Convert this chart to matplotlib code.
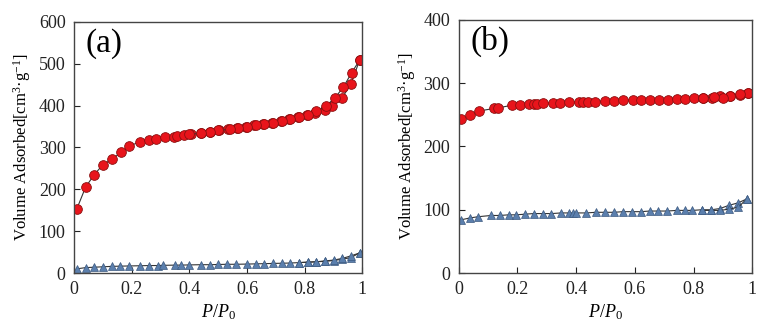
import numpy as np
import matplotlib.pyplot as plt

plt.rcParams['font.family'] = ['Liberation Serif', 'DejaVu Serif']
plt.rcParams['mathtext.fontset'] = 'custom'
plt.rcParams['mathtext.rm'] = 'Liberation Serif'
plt.rcParams['mathtext.it'] = 'Liberation Serif:italic'

# (a) adsorption / desorption, red circles
a_red_ads_x = [0.009, 0.04, 0.069, 0.099, 0.133, 0.163, 0.192, 0.229, 0.259, 0.284, 0.314,
               0.347, 0.358, 0.382, 0.405, 0.442, 0.472, 0.502, 0.534, 0.564, 0.595, 0.625,
               0.655, 0.687, 0.717, 0.747, 0.777, 0.807, 0.837, 0.870, 0.895, 0.928, 0.960, 0.990]
a_red_ads_y = [152, 205, 234, 258, 273, 288, 303, 314, 318, 320, 324,
               326, 327, 329, 331, 334, 337, 341, 343, 346, 350, 353,
               356, 359, 363, 368, 373, 378, 383, 390, 398, 417, 451, 508]
a_red_des_x = [0.990, 0.963, 0.934, 0.904, 0.874, 0.84, 0.81, 0.78, 0.75, 0.72, 0.69,
               0.66, 0.63, 0.60, 0.57, 0.54, 0.50, 0.47, 0.44, 0.40]
a_red_des_y = [508, 479, 444, 418, 399, 386, 378, 373, 368, 363, 359,
               356, 353, 350, 346, 343, 341, 337, 334, 331]

# (a) blue triangles
a_blue_ads_x = [0.009, 0.04, 0.07, 0.10, 0.13, 0.16, 0.19, 0.23, 0.26, 0.29, 0.31, 0.35,
                0.37, 0.40, 0.44, 0.47, 0.50, 0.53, 0.56, 0.60, 0.63, 0.66, 0.69, 0.72,
                0.75, 0.78, 0.81, 0.84, 0.87, 0.90, 0.93, 0.96, 0.99]
a_blue_ads_y = [10, 13, 14, 15, 16, 16.5, 17, 17.5, 18, 18, 18.5, 19,
                19, 19.5, 20, 20, 20.5, 21, 21, 21.5, 22, 22.5, 23, 23.5,
                24, 25, 26, 27, 28, 30, 33, 37, 48]
a_blue_des_x = [0.99, 0.96, 0.93, 0.90, 0.87, 0.84, 0.81, 0.78]
a_blue_des_y = [48, 41, 35, 31, 29, 27, 26, 25]

# (b) red circles
b_red_ads_x = [0.007, 0.0375, 0.069, 0.12, 0.135, 0.18, 0.21, 0.24, 0.255, 0.265, 0.287,
               0.32, 0.345, 0.374, 0.408, 0.424, 0.44, 0.465, 0.497, 0.528, 0.56, 0.592,
               0.622, 0.651, 0.683, 0.712, 0.742, 0.772, 0.801, 0.833, 0.863, 0.89, 0.924,
               0.958, 0.986]
b_red_ads_y = [243, 249, 256, 260, 261, 265, 266, 267, 267, 267, 268,
               269, 269, 270, 270, 270, 270, 271, 272, 272, 273, 273,
               274, 274, 274, 274, 275, 275, 276, 276, 277, 279, 280,
               282, 284]
b_red_des_x = [0.986, 0.958, 0.924, 0.90, 0.87, 0.833]
b_red_des_y = [284, 283, 279, 276, 278, 277]

# (b) blue triangles
b_blue_ads_x = [0.007, 0.0375, 0.066, 0.11, 0.14, 0.17, 0.195, 0.225, 0.255, 0.286, 0.316,
                0.349, 0.374, 0.39, 0.40, 0.435, 0.466, 0.498, 0.528, 0.56, 0.589, 0.62,
                0.65, 0.68, 0.71, 0.742, 0.772, 0.796, 0.827, 0.86, 0.89, 0.92, 0.952, 0.98]
b_blue_ads_y = [84, 87, 89, 91, 91, 92, 92, 93, 94, 94, 94,
                95, 95, 95, 95, 95, 96, 96, 96, 97, 97, 97,
                98, 98, 98, 99, 99, 99, 100, 100, 102, 107, 111, 117]
b_blue_des_x = [0.98, 0.952, 0.92, 0.89, 0.86, 0.827]
b_blue_des_y = [117, 104, 101, 99, 99, 99]

red_style = dict(color='#333333', lw=0.8, marker='o', ms=7, mfc='#e8141b',
                 mec='#8a1010', mew=0.6)
blue_style = dict(color='#333333', lw=0.8, marker='^', ms=5.5, mfc='#5b7fad',
                  mec='#3d5a80', mew=0.5)

fig = plt.figure(figsize=(7.67, 3.31), dpi=100)
ax1 = fig.add_axes([0.0965, 0.175, 0.376, 0.759])
ax2 = fig.add_axes([0.598, 0.175, 0.383, 0.765])


def style_axis(ax, ymax, label):
    ax.set_xlim(0, 1)
    ax.set_ylim(0, ymax)
    ax.set_xticks([0, 0.2, 0.4, 0.6, 0.8, 1])
    ax.set_xticklabels(['0', '0.2', '0.4', '0.6', '0.8', '1'])
    ax.tick_params(direction='in', length=4, width=0.8, labelsize=13,
                   colors='#222222', pad=6)
    for s in ax.spines.values():
        s.set_color('#444444')
        s.set_linewidth(1.0)
    ax.set_xlabel(r'$P/P_0$', fontsize=13, labelpad=3)
    ax.set_ylabel('Volume Adsorbed[cm$^3$·g$^{-1}$]', fontsize=12, labelpad=4)
    ax.text(0.04, 0.975, label, transform=ax.transAxes, fontsize=24,
            va='top', ha='left')


ax1.plot(a_red_ads_x, a_red_ads_y, **red_style)
ax1.plot(a_red_des_x, a_red_des_y, **red_style)
ax1.plot(a_blue_ads_x, a_blue_ads_y, **blue_style)
ax1.plot(a_blue_des_x, a_blue_des_y, **blue_style)
style_axis(ax1, 600, '(a)')
ax1.set_yticks(np.arange(0, 601, 100))

ax2.plot(b_red_ads_x, b_red_ads_y, **red_style)
ax2.plot(b_red_des_x, b_red_des_y, **red_style)
ax2.plot(b_blue_ads_x, b_blue_ads_y, **blue_style)
ax2.plot(b_blue_des_x, b_blue_des_y, **blue_style)
style_axis(ax2, 400, '(b)')
ax2.set_yticks(np.arange(0, 401, 100))

fig.savefig('out.png', dpi=100)
